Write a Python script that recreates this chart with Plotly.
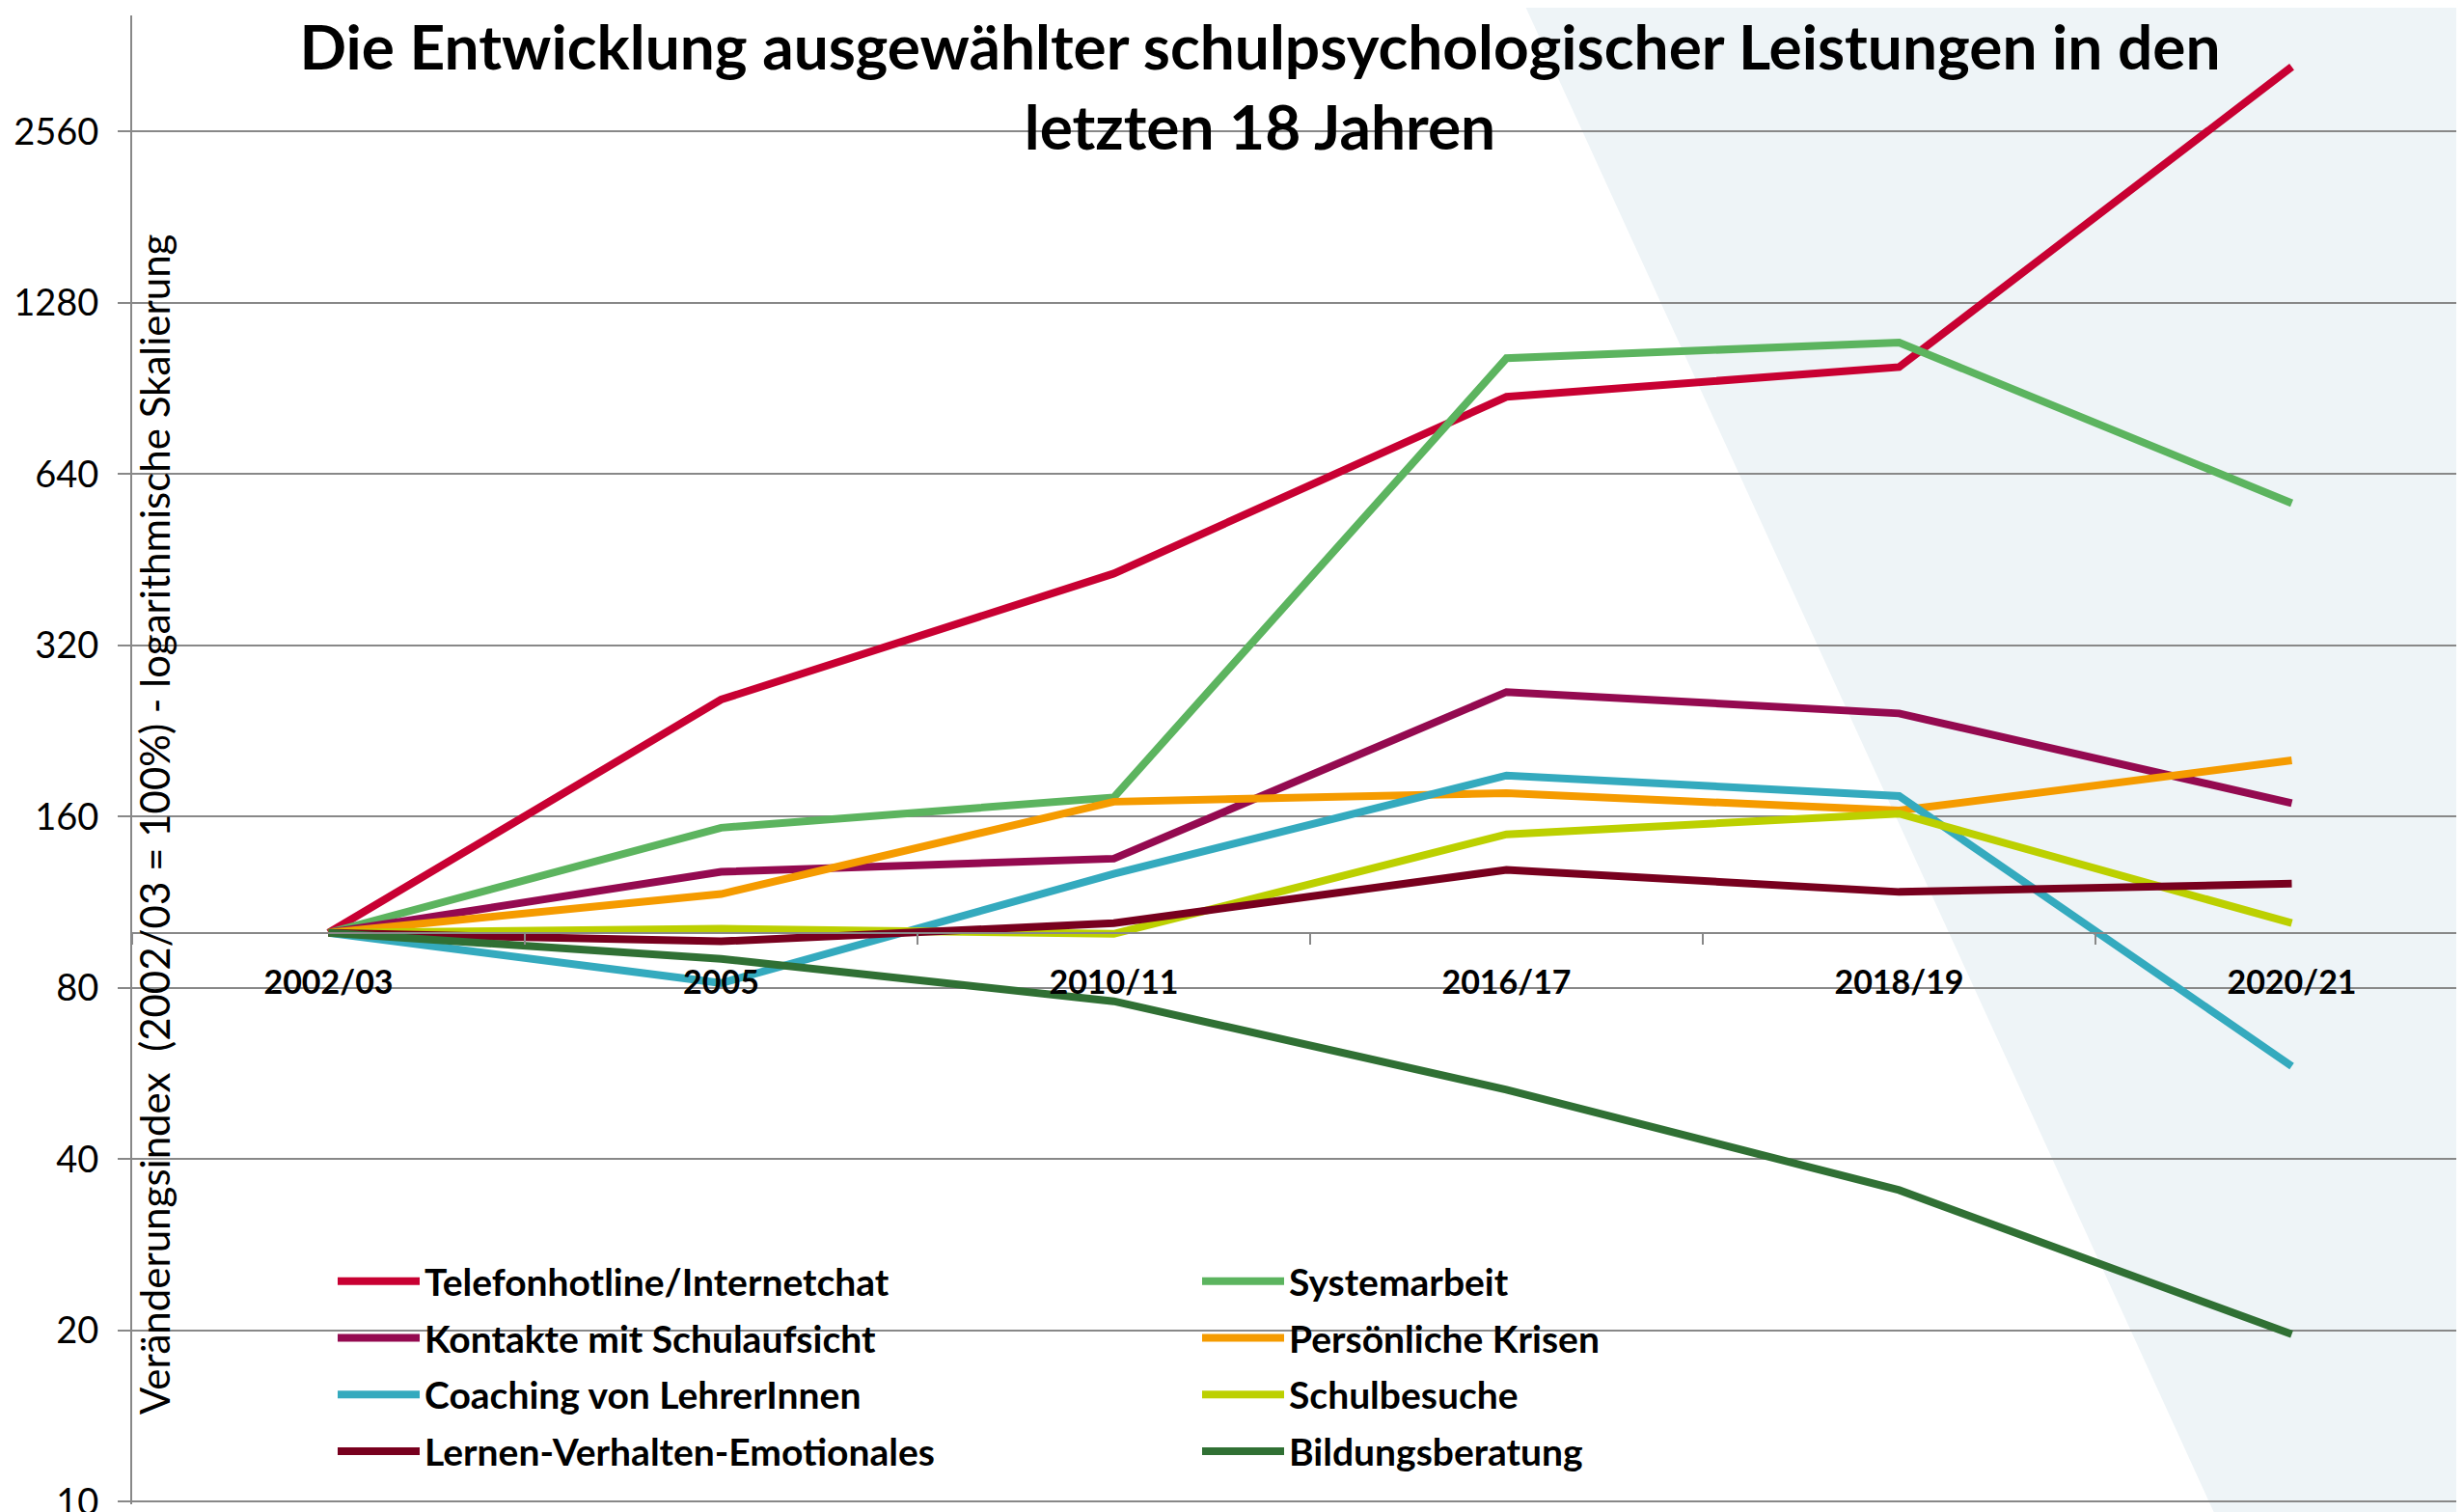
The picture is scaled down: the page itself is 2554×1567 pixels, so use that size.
import plotly.graph_objects as go
import math

categories = ["2002/03", "2005", "2010/11", "2016/17", "2018/19", "2020/21"]

telefonhotline = [100, 257, 428, 875, 987, 3327]
systemarbeit = [100, 153, 173, 1023, 1090, 569]
kontakte = [100, 128, 135, 265, 243, 169]
krisen = [100, 117, 170, 176, 164, 201]
coaching = [100, 81.6, 127, 189, 174, 58.3]
schulbesuche = [100, 101.7, 99.6, 149, 162, 104]
lernen = [100, 96.6, 104, 129, 118, 122]
bildung = [100, 90, 75.8, 53, 35.3, 19.7]

series_names = [
    "Telefonhotline/Internetchat", "Systemarbeit",
    "Kontakte mit Schulaufsicht", "Persönliche Krisen",
    "Coaching von LehrerInnen", "Schulbesuche",
    "Lernen-Verhalten-Emotionales", "Bildungsberatung",
]
series_values = [telefonhotline, systemarbeit, kontakte, krisen,
                 coaching, schulbesuche, lernen, bildung]
series_colors = ["#C80032", "#5CB45F", "#940A50", "#F59B00",
                 "#34AABE", "#BCD000", "#78001E", "#307034"]

y_tickvals = [10, 20, 40, 80, 160, 320, 640, 1280, 2560]
y_ticktext = [str(v) for v in y_tickvals]

# page is offset by the default 8px body margin
OFF = 8
W, H = 2554 - OFF, 1567 - OFF
ML, MR, MT, MB = 137 - OFF, 0, 16 - OFF, 8
PW, PH = W - ML - MR, H - MT - MB
ymin, ymax = 9.9, 4096
lo, hi = math.log10(ymin), math.log10(ymax)

def px_to_paper_x(px):
    return (px - OFF - ML) / PW

def py_to_paper_y(py):
    return (OFF + H - MB - py) / PH

fig = go.Figure()
for i, (name, vals, col) in enumerate(zip(series_names, series_values, series_colors)):
    fig.add_trace(go.Scatter(
        x=categories, y=vals, mode="lines", name=name,
        line=dict(color=col, width=8),
        legend="legend" if i % 2 == 0 else "legend2",
        legendgroup=f"g{i}",
    ))

axis_pos = (math.log10(100) - lo) / (hi - lo)

fig.add_shape(
    type="path", xref="paper", yref="paper", layer="below",
    path=(f"M {px_to_paper_x(1578)},{py_to_paper_y(0)} "
          f"L {px_to_paper_x(2560)},{py_to_paper_y(0)} "
          f"L {px_to_paper_x(2560)},{py_to_paper_y(1570)} "
          f"L {px_to_paper_x(2296)},{py_to_paper_y(1570)} Z"),
    fillcolor="#EEF4F7", line=dict(width=0),
)

fig.add_annotation(
    text="Veränderungsindex  (2002/03 = 100%) - logarithmische Skalierung",
    xref="paper", yref="paper", x=px_to_paper_x(160), y=py_to_paper_y(855),
    xanchor="center", yanchor="middle", textangle=-90, showarrow=False,
    font=dict(family="Lato", size=42, color="black"),
)

legend_common = dict(
    font=dict(family="Lato", size=39, color="black", weight="bold"),
    bgcolor="rgba(0,0,0,0)", borderwidth=0, orientation="v",
    tracegroupgap=5, xanchor="left", yanchor="top", itemwidth=85,
)

fig.update_layout(
    width=W, height=H,
    margin=dict(l=ML, r=MR, t=MT, b=MB, pad=0, autoexpand=False),
    paper_bgcolor="white", plot_bgcolor="rgba(0,0,0,0)",
    title=dict(
        text="Die Entwicklung ausgewählter schulpsychologischer Leistungen in den<br>letzten 18 Jahren",
        x=(1306 - OFF) / W, xanchor="center", y=1 - 64 / H, yanchor="top",
        font=dict(family="Lato", size=64, color="black", weight="bold"),
    ),
    xaxis=dict(
        type="category", range=[-0.5, -0.5 + PW / 407],
        anchor="free", position=axis_pos, automargin=False,
        showline=True, linecolor="#888888", linewidth=2,
        ticks="outside", tickson="boundaries", ticklen=11, tickcolor="#888888", tickwidth=2,
        showgrid=False, zeroline=False,
        tickfont=dict(family="Lato", size=34, color="black", weight="bold"),
        ticklabelstandoff=21,
    ),
    yaxis=dict(
        type="log", range=[lo, hi], automargin=False,
        tickvals=y_tickvals, ticktext=y_ticktext,
        showline=True, linecolor="#888888", linewidth=2,
        ticks="outside", ticklen=13, tickcolor="#888888", tickwidth=2,
        showgrid=True, gridcolor="#888888", gridwidth=2,
        zeroline=False, ticklabeloverflow="allow", ticklabelstandoff=12,
        tickfont=dict(family="Lato", size=38, color="black"),
    ),
    legend=dict(x=px_to_paper_x(345), y=py_to_paper_y(1296), **legend_common),
    legend2=dict(x=px_to_paper_x(1241), y=py_to_paper_y(1296), **legend_common),
    showlegend=True,
)

fig.write_html("out.html")
